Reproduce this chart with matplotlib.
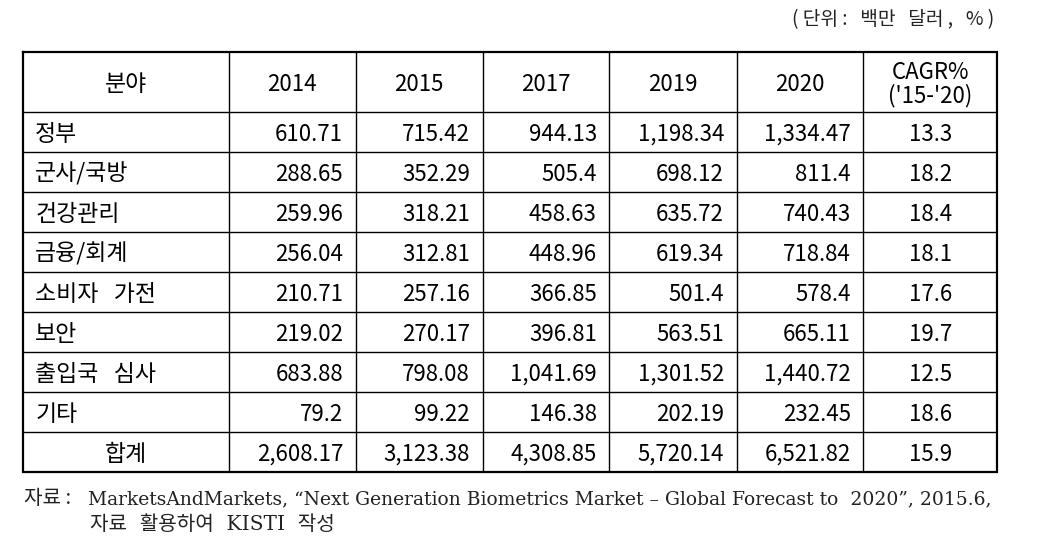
import matplotlib
matplotlib.use("Agg")
import matplotlib.pyplot as plt

plt.rcParams['font.family'] = ['Noto Sans CJK KR', 'DejaVu Sans']

header = ["분야", "2014", "2015", "2017", "2019", "2020", "CAGR%\n('15-'20)"]
categories = ["정부", "군사/국방", "건강관리", "금융/회계", "소비자 가전", "보안", "출입국 심사", "기타", "합계"]
v2014 = ["610.71", "288.65", "259.96", "256.04", "210.71", "219.02", "683.88", "79.2", "2,608.17"]
v2015 = ["715.42", "352.29", "318.21", "312.81", "257.16", "270.17", "798.08", "99.22", "3,123.38"]
v2017 = ["944.13", "505.4", "458.63", "448.96", "366.85", "396.81", "1,041.69", "146.38", "4,308.85"]
v2019 = ["1,198.34", "698.12", "635.72", "619.34", "501.4", "563.51", "1,301.52", "202.19", "5,720.14"]
v2020 = ["1,334.47", "811.4", "740.43", "718.84", "578.4", "665.11", "1,440.72", "232.45", "6,521.82"]
cagr = ["13.3", "18.2", "18.4", "18.1", "17.6", "19.7", "12.5", "18.6", "15.9"]

unit_text = "( 단위 :   백만   달러 ,   % )"
source_label = "자료 :"
source_line1 = "MarketsAndMarkets, “Next Generation Biometrics Market – Global Forecast to  2020”, 2015.6,"
source_line2 = "자료  활용하여  KISTI  작성"

W, H = 1051, 557
fig = plt.figure(figsize=(W / 100, H / 100), dpi=100)
ax = fig.add_axes([0, 0, 1, 1])
ax.set_xlim(0, W)
ax.set_ylim(H, 0)
ax.axis("off")

col_x = [22.7, 228.7, 355.5, 482.6, 609.3, 736.6, 863.4, 997.0]
header_top, header_bot = 51.5, 112.3
row_h = 40.0
n_rows = len(categories)
row_y = [header_bot + i * row_h for i in range(n_rows + 1)]

inner_lw = 1.0
outer_lw = 1.6
for y in row_y[:-1]:
    ax.plot([col_x[0], col_x[-1]], [y, y], color="black", lw=inner_lw, solid_capstyle="butt")
for x in col_x[1:-1]:
    ax.plot([x, x], [header_top, row_y[-1]], color="black", lw=inner_lw, solid_capstyle="butt")
ax.plot([col_x[0], col_x[-1], col_x[-1], col_x[0], col_x[0]],
        [header_top, header_top, row_y[-1], row_y[-1], header_top],
        color="black", lw=outer_lw, solid_joinstyle="miter")

fs_num = 16
fs_kor = 16.5
hy = (header_top + header_bot) / 2
for i, h in enumerate(header):
    cx = (col_x[i] + col_x[i + 1]) / 2
    ax.text(cx, hy + 2.5, h, ha="center", va="center",
            fontsize=fs_kor if i == 0 else fs_num, color="black", linespacing=1.0)

cols = [v2014, v2015, v2017, v2019, v2020]
pad = 12.5
for r in range(n_rows):
    cy = (row_y[r] + row_y[r + 1]) / 2 + 2
    label = categories[r]
    if label == "합계":
        ax.text((col_x[0] + col_x[1]) / 2, cy, label, ha="center", va="center",
                fontsize=fs_kor, color="black")
    else:
        ax.text(col_x[0] + pad, cy, label.replace(" ", "   "), ha="left", va="center",
                fontsize=fs_kor, color="black")
    for c, vals in enumerate(cols):
        ax.text(col_x[c + 2] - pad, cy, vals[r], ha="right", va="center",
                fontsize=fs_num, color="black")
    ax.text((col_x[6] + col_x[7]) / 2, cy, cagr[r], ha="center", va="center",
            fontsize=fs_num, color="black")

ax.text(994, 20, unit_text, ha="right", va="center", fontsize=13.8, color="#222222",
        family=['Noto Sans CJK KR', 'DejaVu Sans'])
ax.text(24, 499, source_label, ha="left", va="center", fontsize=14.5, color="#222222",
        family=['Noto Sans CJK KR', 'DejaVu Sans'])
ax.text(88, 499, source_line1, ha="left", va="center", fontsize=13.5, color="#222222",
        family=['DejaVu Serif', 'Noto Sans CJK KR'])
ax.text(90, 525, source_line2, ha="left", va="center", fontsize=14.5, color="#222222",
        family=['DejaVu Serif', 'Noto Sans CJK KR'])

fig.savefig("out.png", dpi=100)
